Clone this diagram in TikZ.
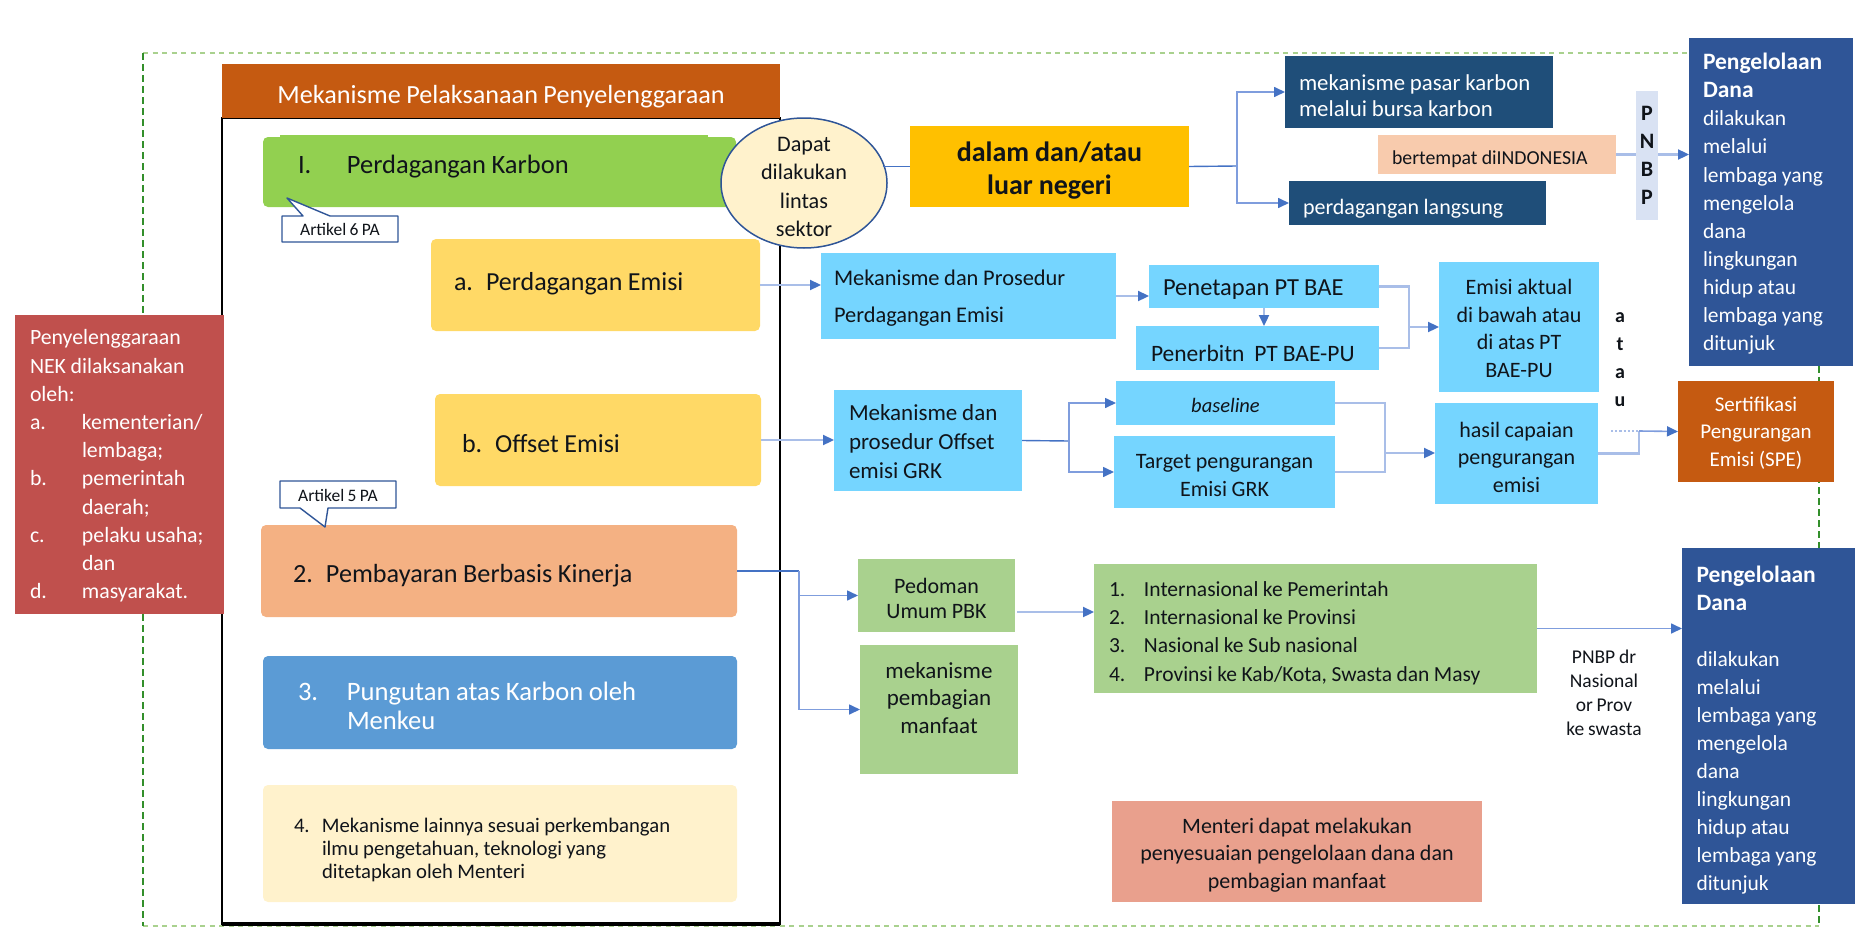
\documentclass[tikz,border=0pt]{standalone}
\usepackage{fontspec}
\setmainfont{Carlito}[WordSpace=0.85]
\usetikzlibrary{arrows.meta,shapes.geometric}
\definecolor{ink}{HTML}{10141A}
\definecolor{hdr}{HTML}{C55A11}
\definecolor{grn}{HTML}{92D050}
\definecolor{ylw}{HTML}{FFD966}
\definecolor{crm}{HTML}{FFF2CC}
\definecolor{skyb}{HTML}{75D5FF}
\definecolor{dkb}{HTML}{1F4E79}
\definecolor{nvy}{HTML}{2F5597}
\definecolor{gold}{HTML}{FFC000}
\definecolor{pch}{HTML}{F8CBAD}
\definecolor{org}{HTML}{F4B183}
\definecolor{mbl}{HTML}{5B9BD5}
\definecolor{lgr}{HTML}{A9D18E}
\definecolor{red1}{HTML}{C0504D}
\definecolor{sal}{HTML}{E9A08D}
\definecolor{strip}{HTML}{D9E2F3}
\definecolor{lnk}{HTML}{4472C4}
\definecolor{lnkm}{HTML}{7F9DDD}
\definecolor{lnkl}{HTML}{A9BEE8}
\newcommand{\fs}[2]{\fontsize{#1}{#2}\selectfont}
\newcommand{\bx}[8]{%
  \pgfmathsetmacro\bxw{#4-#2}\pgfmathsetmacro\bxh{#5-#3}\pgfmathsetmacro\bxt{\bxw-2*#6}%
  \node[anchor=north west,inner xsep=#6pt,inner ysep=0pt,outer sep=0pt,text width=\bxt pt,minimum height=\bxh pt,text=ink,#7] (#1) at (#2,#3) {\spaceskip=0.21em\relax #8};}
\newcommand{\upby}[1]{\par\vspace*{#1pt}}
\newcommand{\dn}[1]{\leavevmode\rule{0pt}{\dimexpr0.74em+#1pt*2\relax}}
\newcommand{\itm}[3]{\makebox[#1pt][l]{#2}#3}
\tikzset{
  conn/.style={draw=lnkm,line width=1.6pt,-{Triangle[length=11pt,width=10pt,fill=lnk,color=lnk]}},
  connl/.style={draw=lnkl,line width=2.2pt,-{Triangle[length=11pt,width=10pt,fill=lnk,color=lnk]}},
  plain/.style={draw=lnk,line width=1.4pt},
  plainl/.style={draw=lnkl,line width=2.2pt},
  dashh/.style={draw=lgr,line width=2.8pt,dash pattern=on 5pt off 4.5pt},
  dashv/.style={draw=green!45!black!70!lgr,line width=1.3pt,dash pattern=on 7pt off 4pt},
  call/.style={draw=nvy,line width=1.4pt,fill=white,line join=round},
  rnd/.style={rounded corners=5pt},
}
\begin{document}
\begin{tikzpicture}[x=1pt,y=-1pt]
\useasboundingbox (0,0) rectangle (1862,934);
% dashed frame
\draw[dashh] (143,53) -- (1819,53);
\draw[dashh] (143,926) -- (1819,926);
\draw[dashv] (143,53) -- (143,926);
\draw[dashv] (1819,366) -- (1819,926);
% black frame
\bx{frame}{222}{118}{780}{924}{0}{draw=black,line width=2.6pt}{}
\draw[black,line width=3.4pt] (frame.south west) -- (frame.south east);
\bx{title}{222}{64}{780}{118}{0}{fill=hdr,text=white,align=center,font=\fs{26.2}{30}}{\dn{5}Mekanisme Pelaksanaan Penyelenggaraan}
% left column
\fill[grn] (280,135) rectangle (708,142);
\bx{karbon}{263}{137}{736}{207}{35}{fill=grn,rnd,font=\fs{26.5}{30}}{\itm{49}{I.}{Perdagangan Karbon}\upby{10}}
\bx{emisi}{431}{239}{760}{331}{23}{fill=ylw,rnd,font=\fs{26}{30}}{a. Perdagangan Emisi\upby{3}}
\bx{offset}{435}{394}{761}{486}{27}{fill=ylw,rnd,font=\fs{26}{30}}{\dn{2.5}b. Offset Emisi}
\bx{pbk}{261}{525}{737}{617}{32}{fill=org,rnd,font=\fs{26.2}{30}}{\dn{4.5}2. Pembayaran Berbasis Kinerja}
\bx{pungut}{263}{656}{737}{749}{35}{fill=mbl,rnd,text=white,font=\fs{26.6}{29}}{\dn{2.5}\itm{49}{3.}{Pungutan atas Karbon oleh}\\\hspace*{49pt}Menkeu}
\bx{lain}{263}{785}{737}{902}{31}{fill=crm,rnd,font=\fs{20.7}{23}}{\dn{5.5}\itm{28}{4.}{Mekanisme lainnya sesuai perkembangan}\\\hspace*{28pt}ilmu pengetahuan, teknologi yang\\\hspace*{28pt}ditetapkan oleh Menteri}
% callouts
\draw[call] (282,216) -- (303,216) -- (287,198) -- (330,216) -- (398,216) -- (398,242) -- (282,242) -- cycle;
\node[text=ink,font=\fs{17.5}{18},inner sep=0pt] (art6) at (340,229) {Artikel 6 PA};
\draw[call] (280,481) -- (396,481) -- (396,508) -- (328,508) -- (325,527) -- (300,508) -- (280,508) -- cycle;
\node[text=ink,font=\fs{17.5}{18},inner sep=0pt] (art5) at (338,495) {Artikel 5 PA};
% red box
\bx{nek}{15}{315}{224}{614}{15}{fill=red1,text=white,font=\fs{21.8}{28.2}}{\dn{1}Penyelenggaraan\\NEK dilaksanakan\\oleh:\\\itm{52}{a.}{kementerian/}\\\hspace*{52pt}lembaga;\\\itm{52}{b.}{pemerintah}\\\hspace*{52pt}daerah;\\\itm{52}{c.}{pelaku usaha;}\\\hspace*{52pt}dan\\\itm{52}{d.}{masyarakat.}}
% top row
\bx{gold}{910}{126}{1189}{207}{0}{fill=gold,align=center,font=\bfseries\fs{28}{33}}{\dn{4}dalam dan/atau\\luar negeri}
\bx{pasar}{1285}{56}{1553}{128}{14}{fill=dkb,text=white,font=\fs{22.8}{26.5}}{\dn{3}mekanisme pasar karbon\\melalui bursa karbon}
\bx{langsung}{1289}{181}{1546}{225}{14}{fill=dkb,text=white,font=\fs{22}{26}}{\dn{5}perdagangan langsung}
\bx{tempat}{1378}{135}{1616}{174}{14}{fill=pch,font=\fs{19.8}{22}}{\dn{4}bertempat diINDONESIA}
\bx{peng}{1689}{38}{1853}{366}{14}{fill=nvy,text=white,font=\fs{21.5}{28.1}}{\dn{2}{\bfseries\fs{23.5}{28.1}Pengelolaan\\Dana\\}dilakukan\\melalui\\lembaga yang\\mengelola\\dana\\lingkungan\\hidup atau\\lembaga yang\\ditunjuk}
% connectors of top row
\coordinate (jgold) at (1237,166);
\draw[plain] (gold.east) -- (jgold);
\draw[conn] (jgold) |- (pasar.west);
\draw[conn] (jgold) |- (langsung.west);
\draw[connl] (tempat.east) -- (tempat.east -| peng.west);
\bx{pnbp}{1636}{91}{1658}{220}{0}{fill=strip,align=center,font=\bfseries\fs{22}{28}}{P\\N\\B\\P}
% ellipse
\node[ellipse,draw=nvy,line width=1.5pt,fill=crm,text=ink,minimum width=166pt,minimum height=130pt,inner xsep=0pt,inner ysep=-18pt,align=center,font=\fs{22.2}{28.5}] (lintas) at (804,183) {\dn{3}Dapat\\dilakukan\\lintas\\sektor};
\draw[plain] (lintas.16 |- gold.west) -- (gold.west);
% emisi row
\bx{mek1}{821}{253}{1116}{339}{13}{fill=skyb,font=\fs{22.4}{37}}{\dn{2}Mekanisme dan Prosedur\\Perdagangan Emisi}
\bx{tetap}{1149}{265}{1379}{308}{14}{fill=skyb,font=\fs{24.5}{26}}{\dn{2}Penetapan PT BAE}
\bx{terbit}{1136}{326}{1379}{370}{15}{fill=skyb,font=\fs{23.5}{26}}{\dn{5}Penerbitn\ \ PT BAE-PU}
\bx{aktual}{1439}{262}{1599}{392}{0}{fill=skyb,align=center,font=\fs{22}{27.7}}{\dn{1}Emisi aktual\\di bawah atau\\di atas PT\\BAE-PU}
\draw[connl] (emisi.east) -- (emisi.east -| mek1.west);
\draw[connl] (mek1.east) -- (mek1.east -| tetap.west);
\draw[connl] (tetap.south) -- (tetap.south |- terbit.north);
\coordinate (jakt) at (1409,327);
\draw[plainl] (tetap.east) -| (jakt);
\draw[plainl] (terbit.east) -| (jakt);
\draw[connl] (jakt) -- (aktual.west);
\node[text=ink,align=center,inner sep=0pt,font=\bfseries\fs{20}{28}] (atau) at (1620,360) {a\\t\\a\\u};
% offset row
\bx{mek2}{834}{390}{1022}{491}{15}{fill=skyb,font=\fs{23}{29}}{\dn{1}Mekanisme dan\\prosedur Offset\\emisi GRK}
\bx{base}{1116}{381}{1335}{425}{0}{fill=skyb,align=center,font=\itshape\fs{20.5}{26}}{\dn{2}baseline}
\bx{target}{1114}{436}{1335}{508}{0}{fill=skyb,align=center,font=\fs{22}{28}}{\dn{2}Target pengurangan\\Emisi GRK}
\bx{hasil}{1435}{403}{1598}{504}{0}{fill=skyb,align=center,font=\fs{22}{27.5}}{\dn{3}hasil capaian\\pengurangan\\emisi}
\bx{spe}{1678}{381}{1834}{482}{0}{fill=hdr,text=white,align=center,font=\fs{21}{27.5}}{\dn{1}Sertifikasi\\Pengurangan\\Emisi (SPE)}
\draw[connl] (offset.east) -- (offset.east -| mek2.west);
\coordinate (joff) at (1069,441);
\draw[plain] (mek2.east) -- (joff);
\draw[conn] (joff) |- (base.west);
\draw[conn] (joff) |- (target.west);
\coordinate (jhas) at (1385,453);
\draw[plainl] (base.east) -| (jhas);
\draw[plainl] (target.east) -| (jhas);
\draw[connl] (jhas) -- (jhas -| hasil.west);
\coordinate (jspe) at (1639,431);
\coordinate (dots) at (1611,431);
\draw[plainl] (hasil.east) -| (jspe);
\draw[plainl,dotted] (dots) -- (jspe);
\draw[conn] (jspe) -- (spe.west);
% PBK row
\bx{pedoman}{858}{559}{1015}{632}{0}{fill=lgr,align=center,font=\fs{22}{25}}{\dn{2}Pedoman\\Umum PBK}
\bx{bagi}{860}{645}{1018}{774}{0}{fill=lgr,align=center,font=\fs{23}{27.5}}{mekanisme\\pembagian\\manfaat\\[-4pt]~}
\bx{skema}{1094}{564}{1537}{693}{15}{fill=lgr,font=\fs{21.5}{28.3}}{\dn{4}\itm{35}{1.}{Internasional ke Pemerintah}\\\itm{35}{2.}{Internasional ke Provinsi}\\\itm{35}{3.}{Nasional ke Sub nasional}\\\itm{35}{4.}{Provinsi ke Kab/Kota, Swasta dan Masy}}
\bx{peng2}{1682}{548}{1855}{904}{14.5}{fill=nvy,text=white,font=\fs{21.5}{28}}{\dn{4}{\bfseries\fs{23.5}{28}Pengelolaan\\Dana\\}~\\dilakukan\\melalui\\lembaga yang\\mengelola\\dana\\lingkungan\\hidup atau\\lembaga yang\\ditunjuk}
\bx{menteri}{1112}{801}{1482}{902}{0}{fill=sal,align=center,font=\fs{22}{27.5}}{\dn{3}Menteri dapat melakukan\\penyesuaian pengelolaan dana dan\\pembagian manfaat}
\node[text=ink,align=center,inner sep=0pt,font=\fs{19.5}{24}] (pnote) at (1604,693) {PNBP dr\\Nasional\\or Prov\\ke swasta};
\coordinate (jpbk) at (799,571);
\draw[plain] (pbk.east) -- (jpbk);
\draw[conn] (jpbk) |- (pedoman.west);
\draw[conn] (jpbk) |- (bagi.west);
\coordinate (lsrc) at (1017,612);
\draw[connl] (lsrc) -- (lsrc -| skema.west);
\draw[conn] (skema.east) -- (skema.east -| peng2.west);
\end{tikzpicture}
\end{document}
